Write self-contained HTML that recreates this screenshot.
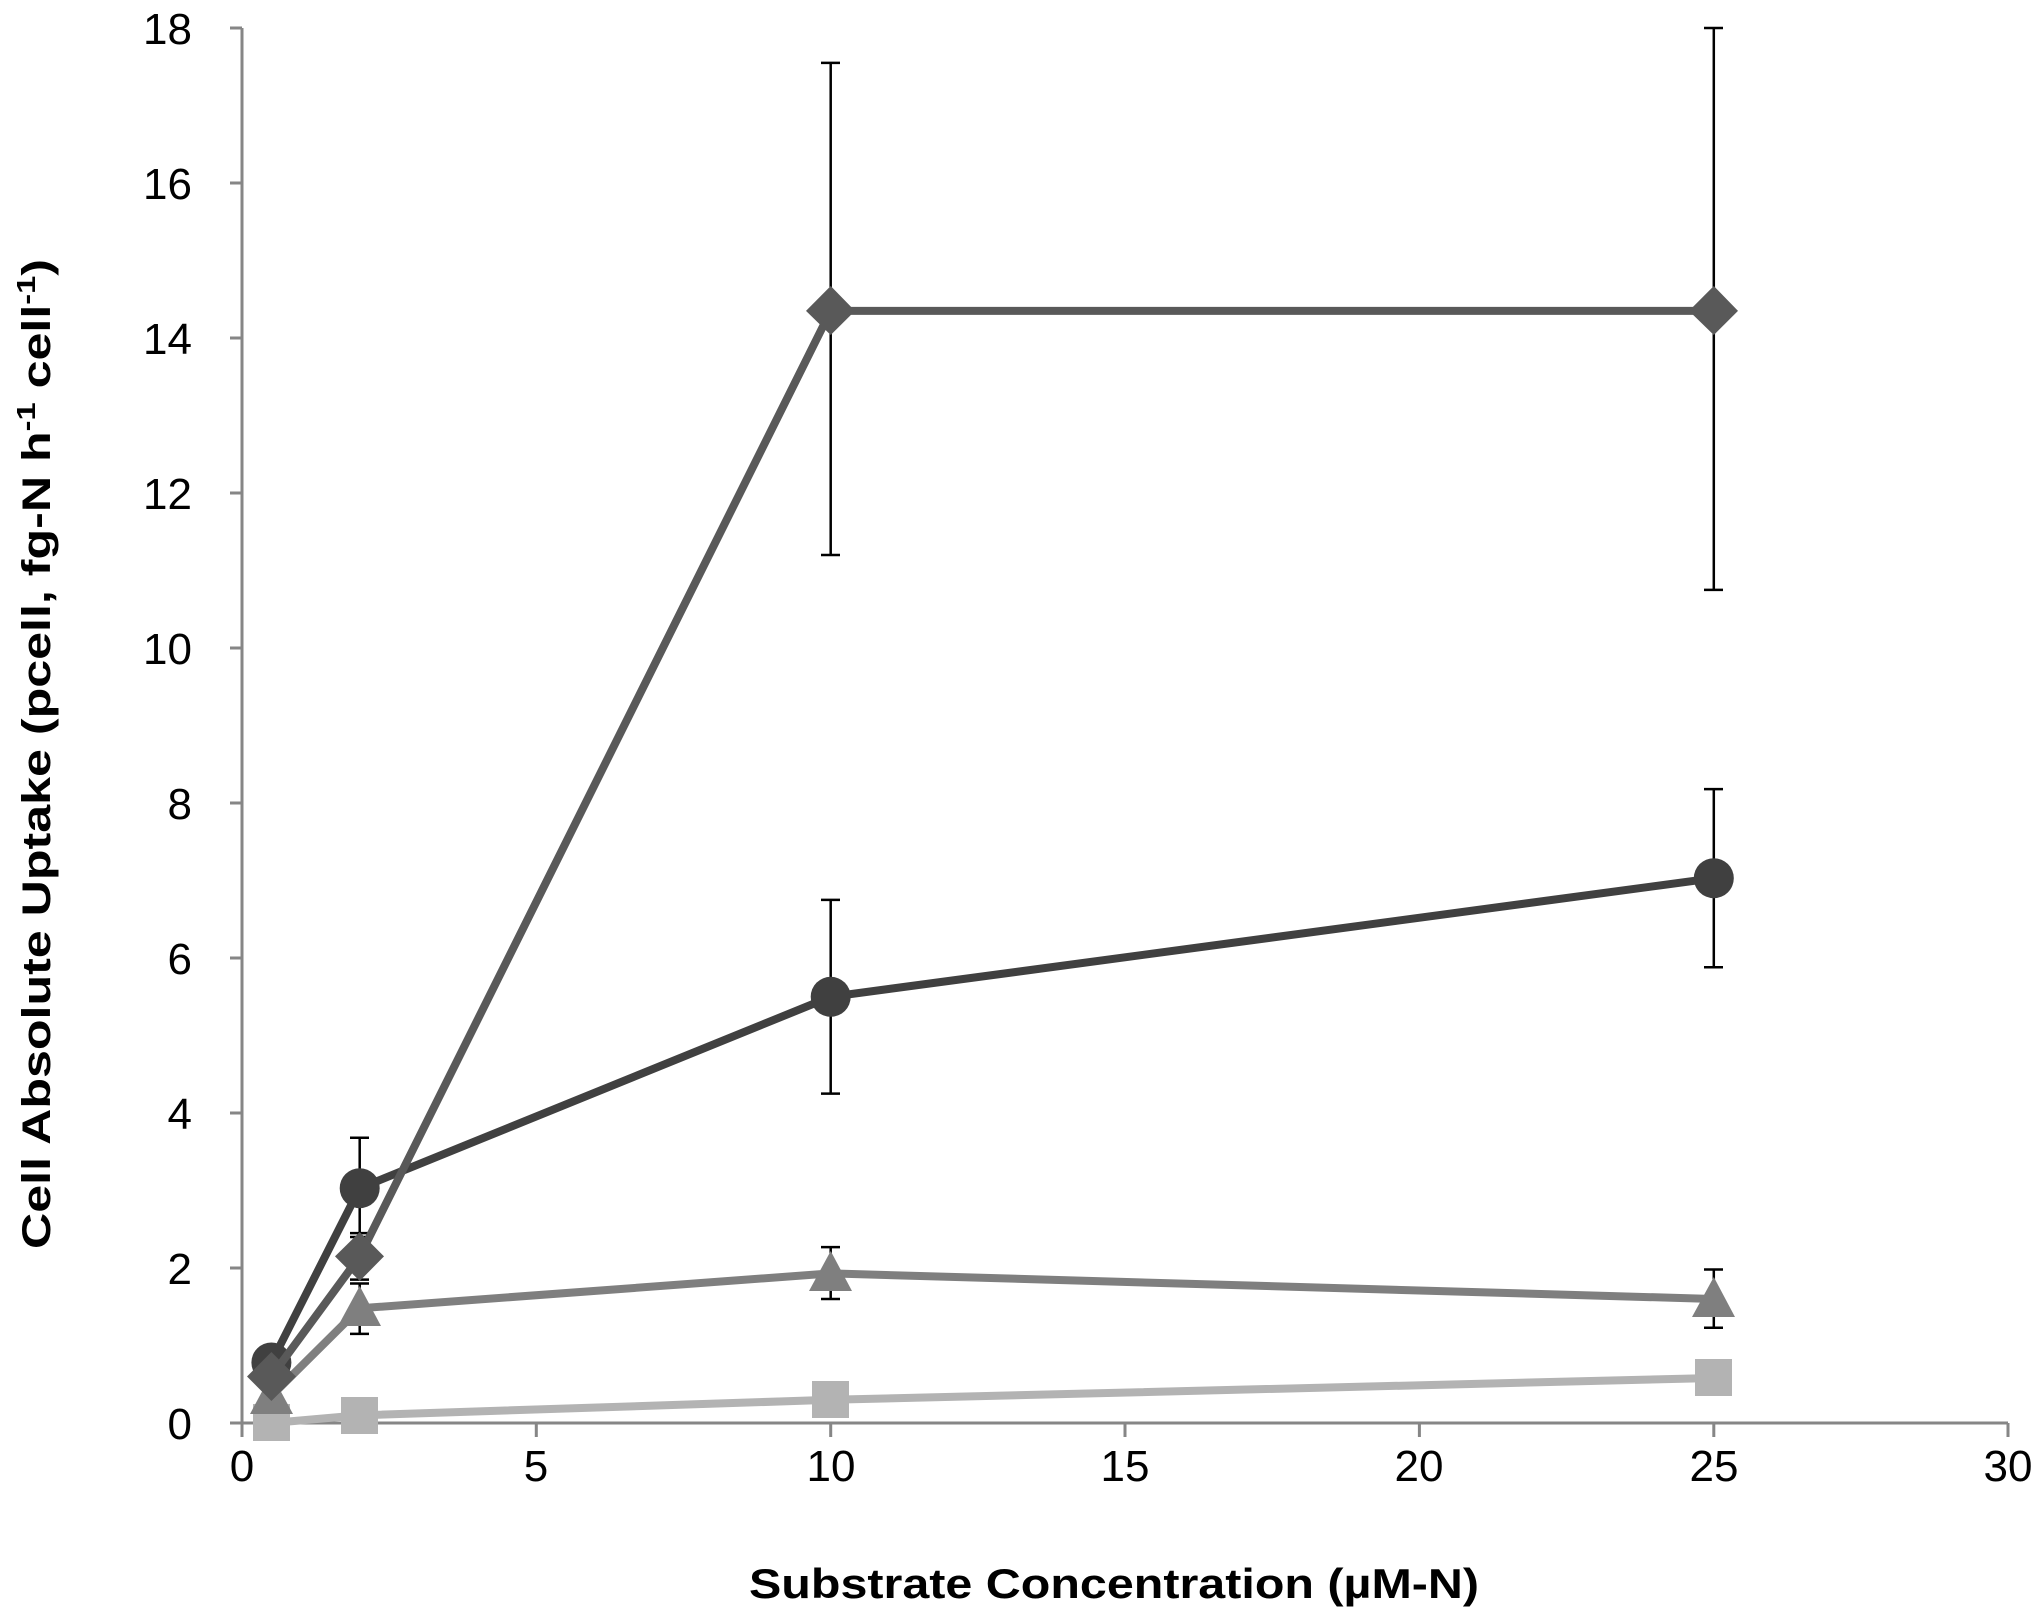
<!DOCTYPE html>
<html><head><style>body{margin:0;background:#fff}svg{display:block}</style></head><body>
<svg width="2038" height="1614" xmlns="http://www.w3.org/2000/svg" font-family="Liberation Sans, sans-serif">
<rect width="2038" height="1614" fill="#fff"/>
<g stroke="#868686" stroke-width="3" fill="none">
<line x1="242" y1="28" x2="242" y2="1423"/>
<line x1="230" y1="1423" x2="2008" y2="1423"/>
<path d="M230 28H242M230 183H242M230 338H242M230 493H242M230 648H242M230 803H242M230 958H242M230 1113H242M230 1268H242"/>
<path d="M242 1423V1437M536.3 1423V1437M830.7 1423V1437M1125 1423V1437M1419.4 1423V1437M1713.8 1423V1437M2008 1423V1437"/>
</g>
<g font-size="44" text-anchor="end" fill="#000">
<text x="192" y="44">18</text><text x="192" y="199">16</text><text x="192" y="354">14</text><text x="192" y="509">12</text><text x="192" y="664">10</text><text x="192" y="819">8</text><text x="192" y="974">6</text><text x="192" y="1129">4</text><text x="192" y="1284">2</text><text x="192" y="1439">0</text>
</g>
<g font-size="44" text-anchor="middle" fill="#000">
<text x="242" y="1481">0</text><text x="536" y="1481">5</text><text x="831" y="1481">10</text><text x="1125" y="1481">15</text><text x="1419" y="1481">20</text><text x="1714" y="1481">25</text><text x="2008" y="1481">30</text>
</g>
<text x="1114" y="1598" font-size="42" font-weight="bold" text-anchor="middle" textLength="730" lengthAdjust="spacingAndGlyphs">Substrate Concentration (µM-N)</text>
<text transform="translate(50,754) rotate(-90)" font-size="40" font-weight="bold" text-anchor="middle" textLength="990" lengthAdjust="spacingAndGlyphs">Cell Absolute Uptake (pcell, fg-N h<tspan dy="-15" font-size="26">-1</tspan><tspan dy="15"> cell</tspan><tspan dy="-15" font-size="26">-1</tspan><tspan dy="15">)</tspan></text>
<g stroke="#000" stroke-width="2.5" fill="none">
<path d="M830.7 555V62.9M821 555H840M821 62.9H840"/>
<path d="M1713.8 589.9V28M1704 589.9H1723M1704 28H1723"/>
<path d="M359.7 1237V1137.8M350 1237H369M350 1137.8H369"/>
<path d="M830.7 1093.6V899.9M821 1093.6H840M821 899.9H840"/>
<path d="M1713.8 967.3V789.1M1704 967.3H1723M1704 789.1H1723"/>
<path d="M359.7 1333.9V1283.5M350 1333.9H369M350 1283.5H369"/>
<path d="M830.7 1299V1247.1M821 1299H840M821 1247.1H840"/>
<path d="M1713.8 1327.7V1269.5M1704 1327.7H1723M1704 1269.5H1723"/>
<path d="M359.7 1279.6V1233.1M350 1279.6H369M350 1233.1H369"/>
</g>
<polyline points="271.4,1423 359.7,1415.3 830.7,1399.8 1713.8,1378" stroke="#b3b3b3" stroke-width="8" fill="none"/>
<g fill="#b3b3b3"><rect x="253" y="1404" width="37" height="37"/><rect x="341" y="1397" width="37" height="37"/><rect x="812" y="1381" width="37" height="37"/><rect x="1695" y="1359" width="37" height="37"/></g>
<polyline points="271.4,1395.9 359.7,1308.3 830.7,1273.4 1713.8,1299" stroke="#7f7f7f" stroke-width="8" fill="none"/>
<g fill="#7f7f7f">
<polygon points="271.4,1374 293,1414 250,1414"/><polygon points="359.7,1286 381,1326 338,1326"/><polygon points="830.7,1251 852,1291 809,1291"/><polygon points="1713.8,1277 1735,1317 1692,1317"/></g>
<polyline points="271.4,1362.5 359.7,1188.2 830.7,996.8 1713.8,878.2" stroke="#404040" stroke-width="8" fill="none"/>
<g fill="#404040"><circle cx="271.4" cy="1362.5" r="20"/><circle cx="359.7" cy="1188.2" r="20"/><circle cx="830.7" cy="996.8" r="20"/><circle cx="1713.8" cy="878.2" r="20"/></g>
<polyline points="271.4,1376.5 359.7,1256.4 830.7,310.9 1713.8,310.9" stroke="#595959" stroke-width="8" fill="none"/>
<g fill="#595959">
<polygon points="271.4,1352 296,1376.5 271.4,1401 247,1376.5"/>
<polygon points="359.7,1232 384,1256.4 359.7,1281 335,1256.4"/>
<polygon points="830.7,286 855,310.9 830.7,335 806,310.9"/>
<polygon points="1713.8,286 1738,310.9 1713.8,335 1689,310.9"/></g>
</svg>
</body></html>
